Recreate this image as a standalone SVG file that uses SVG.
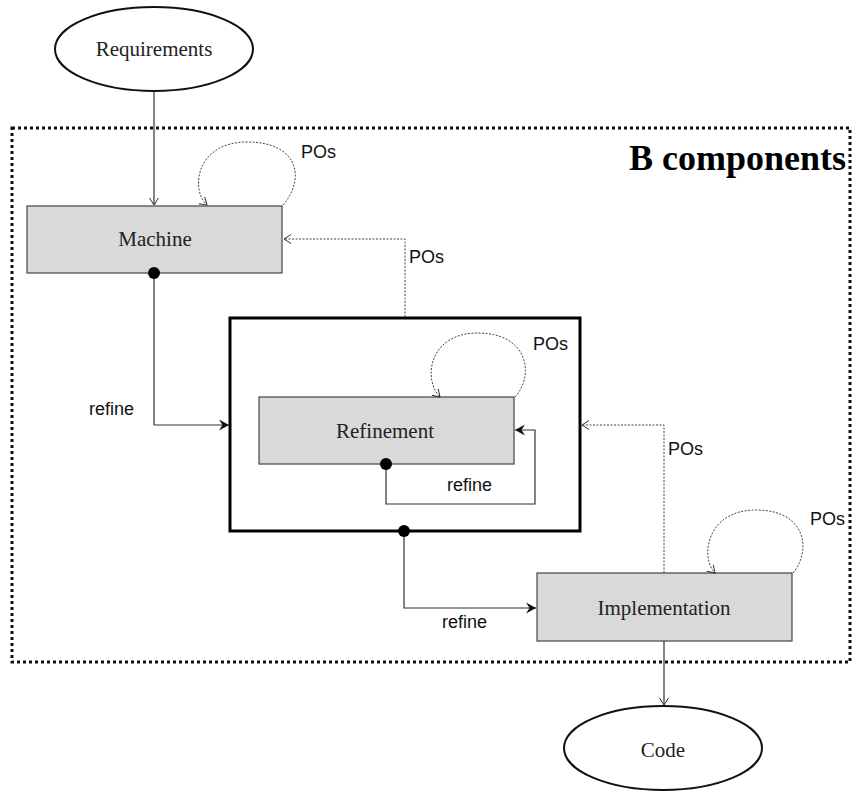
<svg xmlns="http://www.w3.org/2000/svg" width="853" height="791" viewBox="0 0 853 791">
<style>
.serif{font-family:"Liberation Serif","Times New Roman",serif;fill:#222}
.lbl{font-family:"Liberation Sans",Arial,sans-serif;font-size:18px;fill:#111}
.box{fill:#d9d9d9;stroke:#444;stroke-width:1.2}
.ell{fill:#fff;stroke:#111;stroke-width:2}
.solid{fill:none;stroke:#333;stroke-width:1.2}
.dash{fill:none;stroke:#444;stroke-width:1;stroke-dasharray:2,1.5}
.dot{fill:#000}
</style>
<defs>
<marker id="open" markerUnits="userSpaceOnUse" markerWidth="12" markerHeight="12" refX="8" refY="5" orient="auto">
<path d="M1,0.5 L8,5 L1,9.5" fill="none" stroke="#333" stroke-width="1"/>
</marker>
<marker id="fill" markerUnits="userSpaceOnUse" markerWidth="14" markerHeight="12" refX="10" refY="6" orient="auto">
<path d="M0,0.5 L10,6 L0,11.5 L3.5,6 z" fill="#111"/>
</marker>
</defs>
<rect x="12" y="128" width="838" height="534" fill="none" stroke="#111" stroke-width="3" stroke-dasharray="3,3"/>
<text class="serif" x="846" y="170" font-size="36" font-weight="bold" text-anchor="end" style="fill:#000">B components</text>
<g id="requirements">
<ellipse class="ell" cx="154" cy="49" rx="99" ry="42"/>
<text class="serif" x="154" y="56" font-size="21" text-anchor="middle">Requirements</text>
</g>
<g id="machine">
<rect class="box" x="27" y="206" width="255" height="67"/>
<text class="serif" x="155" y="246" font-size="21" text-anchor="middle">Machine</text>
</g>
<g id="refinement-group">
<rect x="230" y="318" width="350" height="213" fill="none" stroke="#000" stroke-width="3"/>
</g>
<g id="refinement">
<rect class="box" x="259" y="397" width="255" height="67"/>
<text class="serif" x="385" y="438" font-size="21" text-anchor="middle">Refinement</text>
</g>
<g id="implementation">
<rect class="box" x="537" y="573" width="255" height="68"/>
<text class="serif" x="664" y="615" font-size="21" text-anchor="middle">Implementation</text>
</g>
<g id="code">
<ellipse class="ell" cx="663" cy="748" rx="99" ry="42"/>
<text class="serif" x="663" y="757" font-size="21" text-anchor="middle">Code</text>
</g>
<g id="connectors">
<line class="solid" x1="154" y1="92" x2="154" y2="205" marker-end="url(#open)"/>
<path class="dash" d="M283 205 C305 180,300 142,247 142 C196 142,190 190,207 205" marker-end="url(#open)"/>
<path class="dash" d="M405 317 L405 239 L284 239" marker-end="url(#open)"/>
<path class="solid" d="M154 273 L154 425 L229 425" marker-end="url(#fill)"/>
<path class="dash" d="M515 397 C535 375,528 333,478 333 C428 333,423 380,440 397" marker-end="url(#open)"/>
<path class="solid" d="M386 464 L386 504 L535 504 L535 430 L515 430" marker-end="url(#fill)"/>
<path class="dash" d="M664 573 L664 425 L582 425" marker-end="url(#open)"/>
<path class="solid" d="M404 531 L404 608 L536 608" marker-end="url(#fill)"/>
<path class="dash" d="M793 573 C812 550,806 510,756 510 C706 510,700 558,715 573" marker-end="url(#open)"/>
<line class="solid" x1="664" y1="641" x2="664" y2="705" marker-end="url(#open)"/>
<circle class="dot" cx="154" cy="273" r="6"/>
<circle class="dot" cx="386" cy="464" r="6"/>
<circle class="dot" cx="404" cy="531" r="6"/>
<text class="lbl" x="301" y="158">POs</text>
<text class="lbl" x="409" y="263">POs</text>
<text class="lbl" x="533" y="350">POs</text>
<text class="lbl" x="668" y="455">POs</text>
<text class="lbl" x="810" y="525">POs</text>
<text class="lbl" x="89" y="415">refine</text>
<text class="lbl" x="447" y="491">refine</text>
<text class="lbl" x="442" y="628">refine</text>
</g>
</svg>
